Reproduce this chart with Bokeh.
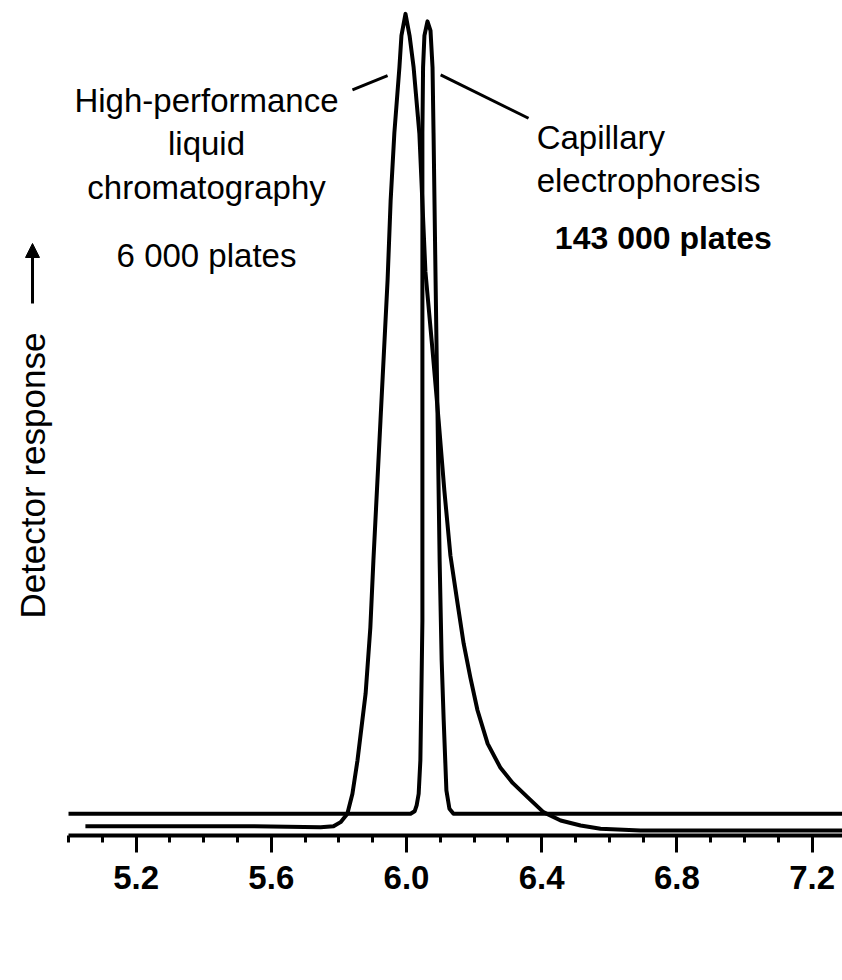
from bokeh.plotting import figure
from bokeh.models import Range1d, Label, Arrow, NormalHead, FixedTicker
from bokeh.embed import file_html
from bokeh.resources import INLINE
import math

# ---- data ----
hplc_time = [5.05, 5.30, 5.55, 5.746, 5.784, 5.805, 5.825, 5.840, 5.855, 5.879,
             5.893, 5.902, 5.923, 5.944, 5.953, 5.964, 5.979, 5.985, 5.997, 6.009,
             6.021, 6.038, 6.056, 6.077, 6.095, 6.112, 6.130, 6.151, 6.169, 6.189,
             6.210, 6.240, 6.278, 6.314, 6.358, 6.405, 6.456, 6.515, 6.574, 6.692, 7.29]
hplc_resp = [1.1, 1.1, 1.1, 1.0, 1.1, 1.6, 2.6, 5.0, 9.0, 17.0,
             24.9, 32.9, 49.7, 66.5, 76.0, 84.1, 92.0, 95.8, 98.4, 95.8,
             92.0, 84.1, 67.5, 58.1, 49.7, 41.3, 33.5, 27.8, 23.0, 18.9,
             15.0, 11.0, 8.1, 6.3, 4.6, 2.8, 1.8, 1.2, 0.8, 0.6, 0.6]

ce_time = [5.0, 5.5, 6.0, 6.012, 6.024, 6.030, 6.036, 6.041, 6.044, 6.047,
           6.047, 6.047, 6.047, 6.047, 6.047, 6.049, 6.053, 6.062, 6.071, 6.077,
           6.080, 6.086, 6.092, 6.098, 6.104, 6.110, 6.118, 6.127, 6.139, 6.5, 7.29]
ce_resp = [2.6, 2.6, 2.6, 2.6, 2.9, 3.6, 5.0, 9.0, 17.0, 25.7,
           32.9, 49.7, 66.5, 76.0, 84.1, 92.0, 95.8, 97.5, 96.4, 92.0,
           84.1, 66.5, 49.7, 32.9, 21.0, 13.8, 5.4, 3.2, 2.6, 2.6, 2.6]

major_ticks = [5.2, 5.6, 6.0, 6.4, 6.8, 7.2]
tick_labels = ["5.2", "5.6", "6.0", "6.4", "6.8", "7.2"]
minor_ticks = [5.0, 5.1, 5.3, 5.4, 5.5, 5.7, 5.8, 5.9, 6.1, 6.2, 6.3,
               6.5, 6.6, 6.7, 6.9, 7.0, 7.1]

FONT = "Liberation Sans"

p = figure(width=842, height=980,
           x_range=Range1d(4.7988, 7.2899), y_range=Range1d(0, 100),
           y_axis_location=None, toolbar_location=None, output_backend="svg",
           min_border_left=0, min_border_right=0, min_border_top=0,
           min_border_bottom=145)
p.outline_line_color = None
p.xgrid.visible = False
p.ygrid.visible = False
p.background_fill_color = "white"

ax = p.xaxis[0]
ax.bounds = (5.0, 7.29)
ax.ticker = FixedTicker(ticks=major_ticks, minor_ticks=minor_ticks)
ax.major_label_overrides = {t: l for t, l in zip(major_ticks, tick_labels)}
ax.axis_line_width = 4
ax.axis_line_color = "black"
ax.major_tick_line_width = 3
ax.minor_tick_line_width = 3
ax.major_tick_in = 0
ax.major_tick_out = 17
ax.minor_tick_in = 0
ax.minor_tick_out = 7
ax.major_label_standoff = 13
ax.major_label_text_font = FONT
ax.major_label_text_font_style = "bold"
ax.major_label_text_font_size = "33px"
ax.major_label_text_color = "black"

p.line(hplc_time, hplc_resp, line_width=4, color="black", line_join="round")
p.line(ce_time, ce_resp, line_width=4, color="black", line_join="round")

# leader lines
p.line([5.840, 5.944], [89.3, 91.0], line_width=3, color="black")
p.line([6.101, 6.361], [91.1, 85.9], line_width=3, color="black")

def lab(x, y, t, align="center", bold=False, size="33px"):
    p.add_layout(Label(x=x, y=y, text=t, text_font=FONT, text_font_size=size,
                       text_align=align, text_baseline="alphabetic",
                       text_font_style="bold" if bold else "normal",
                       text_color="black"))

lab(5.4083, 88.0, "High-performance")
lab(5.4083, 82.9, "liquid")
lab(5.4083, 77.6, "chromatography")
lab(5.4083, 69.5, "6 000 plates")
lab(6.385, 83.6, "Capillary", align="left")
lab(6.385, 78.4, "electrophoresis", align="left")
lab(6.760, 71.6, "143 000 plates", bold=True, size="32px")

# y-axis label with arrow
p.add_layout(Label(x=4.8935, y=43.1, text="Detector response", angle=math.pi / 2,
                   text_font=FONT, text_font_size="35px", text_align="center",
                   text_baseline="middle", text_color="black"))
p.add_layout(Arrow(x_start=4.8935, y_start=63.7, x_end=4.8935, y_end=70.9,
                   line_width=3, line_color="black",
                   end=NormalHead(size=14, fill_color="black", line_color="black")))

# x-axis title
p.add_layout(Label(x=6.1006, y=-12.57, text="Time (min)", text_font=FONT,
                   text_font_size="29px", text_font_style="bold",
                   text_align="center", text_baseline="middle", text_color="black"))

open("out.html", "w").write(file_html(p, INLINE))
